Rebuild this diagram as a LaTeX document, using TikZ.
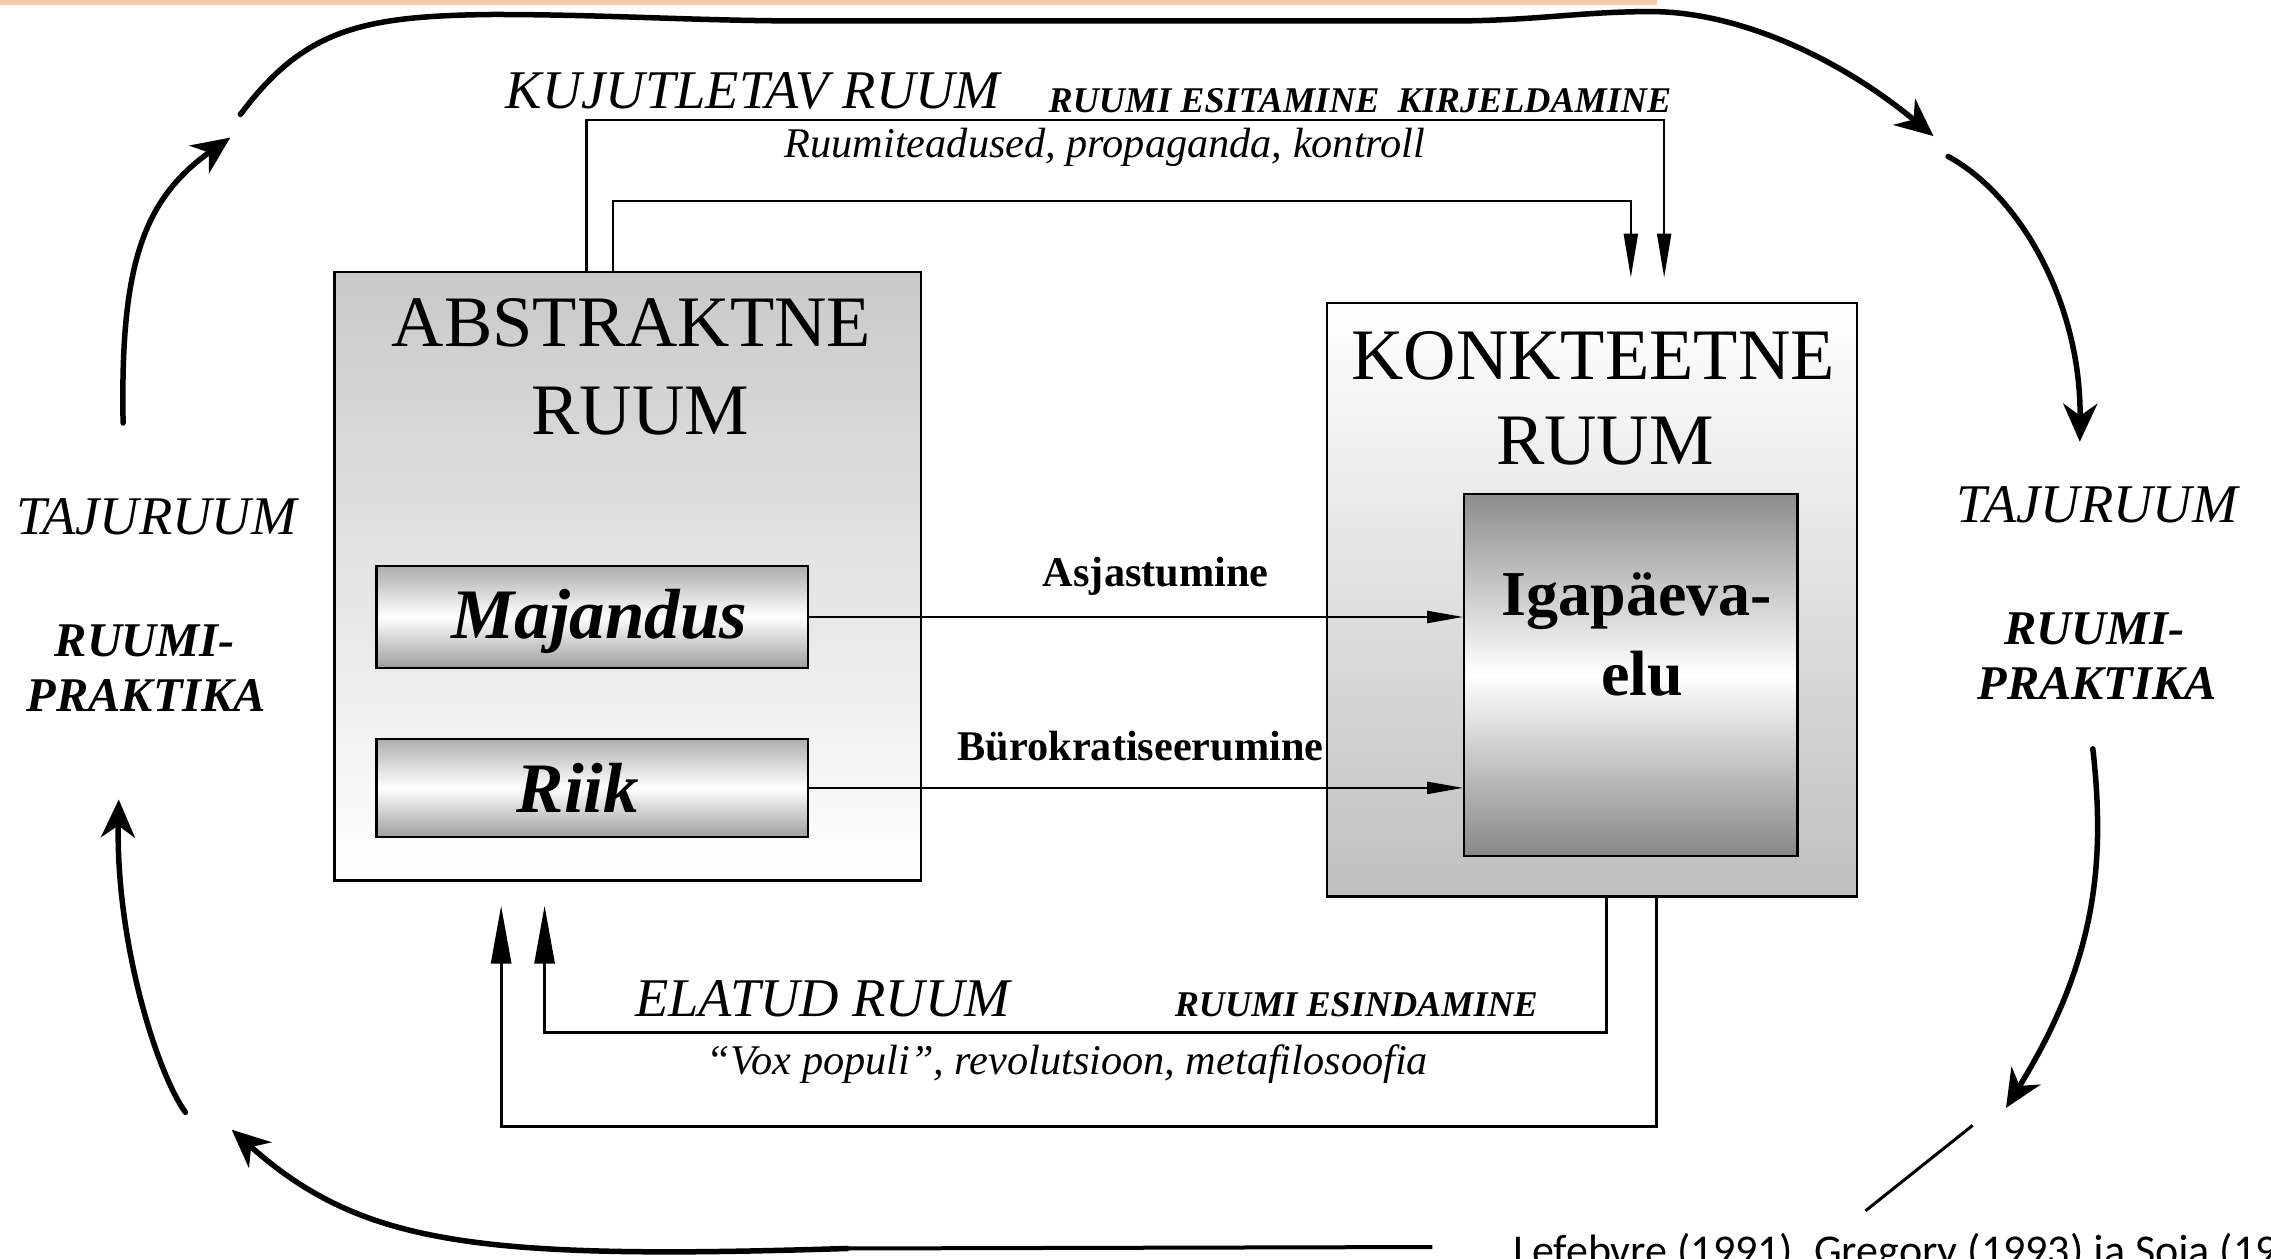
\documentclass[tikz,border=0pt]{standalone}
\usepackage{fontspec}
\setmainfont{Liberation Serif}
\newfontfamily\citefont{Carlito}
\usetikzlibrary{arrows.meta,fit}
\definecolor{barorange}{HTML}{F8CBAD}
\begin{document}
\begin{tikzpicture}[x=1.4484pt,y=-1.4484pt,
  box/.style={draw=black,line width=2.2pt,inner sep=0pt},
  txt/.style={anchor=base,inner sep=0pt},
  titlefont/.style={txt,font=\fontsize{72.5pt}{80pt}\selectfont},
  rolefont/.style={txt,font=\fontsize{71pt}{80pt}\selectfont\bfseries\itshape},
  igafont/.style={txt,font=\fontsize{64pt}{70pt}\selectfont\bfseries},
  spacefont/.style={txt,font=\fontsize{54.5pt}{60pt}\selectfont\itshape},
  actfont/.style={txt,font=\fontsize{36.2pt}{40pt}\selectfont\bfseries\itshape},
  descfont/.style={txt,font=\fontsize{42.3pt}{48pt}\selectfont\itshape},
  flowfont/.style={txt,font=\fontsize{42.3pt}{48pt}\selectfont\bfseries},
  pracfont/.style={txt,font=\fontsize{48.4pt}{54pt}\selectfont\bfseries\itshape},
  conn/.style={line width=2.2pt},
  connb/.style={line width=3pt},
  bigcurve/.style={line width=5.5pt,line cap=round},
  curvetip/.style={-{Stealth[length=38pt,width=34pt,inset=12pt]}},
  toptip/.style={-{Triangle[length=44pt,width=14pt]}},
  sidetip/.style={-{Triangle[length=36pt,width=12pt]}},
  bottip/.style={-{Triangle[length=58pt,width=20pt]}}
]
\useasboundingbox (0,0) rectangle (1568,869);
\clip (0,0) rectangle (1568,869);
\fill[white] (0,0) rectangle (1568,869);
\fill[barorange] (0,0) rectangle (1144,3.5);

% boxes
\node[box, fit={(231,188)(636,608)}, top color=black!21, bottom color=white] (abs) {};
\node[box, fit={(916,209)(1282,619)}, top color=white, bottom color=black!25] (kon) {};
\node[box, fit={(260,391)(558,461)}, top color=black!32, bottom color=black!38, middle color=white] (maj) {};
\node[box, fit={(260,510)(558,578)}, top color=black!32, bottom color=black!38, middle color=white] (riik) {};
\node[box, fit={(1011,341)(1241,591)}, top color=black!45, bottom color=black!47, middle color=white] (iga) {};

% box texts
\node[titlefont] (absA) at (436,239) {ABSTRAKTNE};
\node[titlefont] (absB) at (442,300) {RUUM};
\node[titlefont] (konA) at (1100,262) {KONKTEETNE};
\node[titlefont] (konB) at (1108,321) {RUUM};
\node[rolefont] (majt) at (414,441) {Majandus};
\node[rolefont] (riikt) at (399,561) {Riik};
\node[igafont] (igaA) at (1130,425) {Igapäeva-};
\node[igafont] (igaB) at (1134,480) {elu};

% labels
\node[spacefont] (kuj) at (520,75) {KUJUTLETAV RUUM};
\node[actfont] (esit) at (939,78) {RUUMI ESITAMINE\ \ KIRJELDAMINE};
\node[descfont] (ruum) at (763,109) {Ruumiteadused, propaganda, kontroll};
\node[spacefont] (ela) at (568,702) {ELATUD RUUM};
\node[actfont] (esin) at (936.5,702) {RUUMI ESINDAMINE};
\node[descfont] (vox) at (737,742) {“Vox populi”, revolutsioon, metafilosoofia};
\node[flowfont] (asj) at (798,405) {Asjastumine};
\node[flowfont] (byr) at (787.5,525) {Bürokratiseerumine};
\node[spacefont] (tajL) at (108,369) {TAJURUUM};
\node[pracfont] (rpLa) at (100,453) {RUUMI-};
\node[pracfont] (rpLb) at (101,491) {PRAKTIKA};
\node[spacefont] (tajR) at (1448,361) {TAJURUUM};
\node[pracfont] (rpRa) at (1446,445) {RUUMI-};
\node[pracfont] (rpRb) at (1448,483) {PRAKTIKA};
\node[anchor=base west,inner sep=0pt,font=\citefont\fontsize{44pt}{50pt}\selectfont] (cit) at (1045,874) {Lefebvre (1991), Gregory (1993) ja Soja (1996)};

% top connectors
\coordinate (ta) at (405,83); \coordinate (tb) at (1149,83);
\coordinate (tc) at (423,139); \coordinate (td) at (1126,139);
\draw[conn, toptip, shorten >=24pt] (abs.north -| ta) -- (ta) -- (tb) -- (kon.north -| tb);
\draw[conn, toptip, shorten >=24pt] (abs.north -| tc) -- (tc) -- (td) -- (kon.north -| td);

% bottom connectors
\coordinate (ba) at (1109,713); \coordinate (bb) at (376,713);
\coordinate (bc) at (1144,778); \coordinate (bd) at (346,778);
\draw[connb, bottip, shorten >=24pt] (kon.south -| ba) -- (ba) -- (bb) -- (abs.south -| bb);
\draw[connb, bottip, shorten >=24pt] (kon.south -| bc) -- (bc) -- (bd) -- (abs.south -| bd);

% horizontal flows
\draw[conn, sidetip] (maj.east) -- (maj.east -| iga.west);
\draw[conn, sidetip] (riik.east) -- (riik.east -| iga.west);

% big cycle
\coordinate (c1s) at (85,292); \coordinate (c1e) at (159,95);
\draw[bigcurve, curvetip] (c1s) .. controls (83,185) and (98,138) .. (c1e);
\coordinate (c2s) at (166,79); \coordinate (c2e) at (1335,94);
\draw[bigcurve, curvetip] (c2s) .. controls (210,20) and (250,11) .. (340,10)
  .. controls (420,10) and (480,14.5) .. (560,14.5) -- (1000,14.5)
  .. controls (1060,14.5) and (1090,8) .. (1140,8)
  .. controls (1200,8) and (1270,40) .. (c2e);
\coordinate (c3s) at (1345,108); \coordinate (c3e) at (1436,305);
\draw[bigcurve, curvetip] (c3s) .. controls (1395,135) and (1437,210) .. (c3e);
\coordinate (c4s) at (1445,517); \coordinate (c4e) at (1385,765);
\draw[bigcurve, curvetip] (c4s) .. controls (1453,590) and (1450,660) .. (c4e);
\coordinate (c5a) at (1362,777); \coordinate (c5b) at (1288,836);
\draw[line width=3pt] (c5a) -- (c5b);
\coordinate (c6a) at (989,861); \coordinate (c6b) at (585,862);
\draw[line width=4pt] (c6a) -- (c6b);
\coordinate (c7e) at (160,780);
\draw[bigcurve, curvetip] (c6b) .. controls (330,870) and (250,860) .. (c7e);
\coordinate (c8s) at (128,768); \coordinate (c8e) at (82,552);
\draw[bigcurve, curvetip] (c8s) .. controls (108,740) and (80,650) .. (c8e);
\end{tikzpicture}
\end{document}
